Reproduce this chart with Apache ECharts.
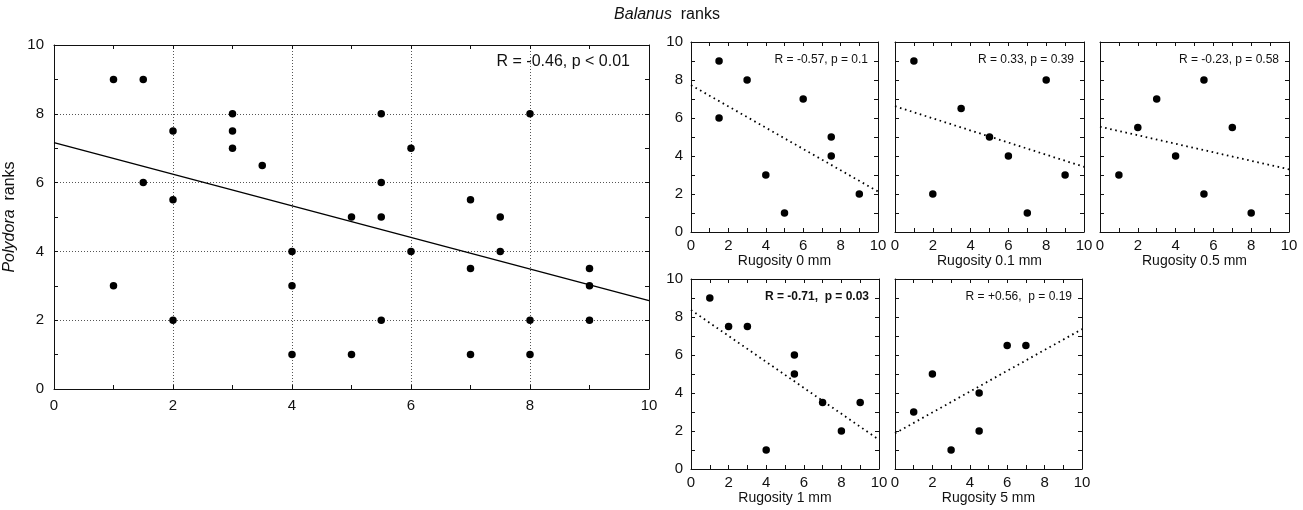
<!DOCTYPE html>
<html>
<head>
<meta charset="utf-8">
<script src="https://cdn.jsdelivr.net/npm/echarts@6/dist/echarts.min.js"></script>
<style>
html,body{margin:0;padding:0;background:#fff;}
#c{width:1303px;height:510px;}
</style>
</head>
<body>
<div id="c"></div>
<script>
// ---------- DATA ----------
const tickValues = [0, 2, 4, 6, 8, 10];
const fitX = [0, 10];

// Main plot: Balanus ranks (x) vs Polydora ranks (y)
const mainX = [1, 1.5, 3, 2, 3, 3, 3.5, 1.5, 2, 5.5, 8, 6, 5.5, 7, 7.5, 5, 5.5, 1, 2, 4, 4, 4, 6, 7.5, 7, 9, 9, 5.5, 8, 9, 5, 7, 8];
const mainY = [9, 9, 8, 7.5, 7.5, 7, 6.5, 6, 5.5, 8, 8, 7, 6, 5.5, 5, 5, 5, 3, 2, 4, 3, 1, 4, 4, 3.5, 3.5, 3, 2, 2, 2, 1, 1, 1];
const mainFit = [7.16, 2.57];
const mainLabel = 'R = -0.46, p < 0.01';

// Rugosity 0 mm
const r0X = [1.5, 3, 1.5, 6, 7.5, 7.5, 4, 5, 9];
const r0Y = [9, 8, 6, 7, 5, 4, 3, 1, 2];
const r0Fit = [7.73, 2.13];
// Rugosity 0.1 mm
const r01X = [1, 8, 3.5, 5, 6, 9, 2, 7];
const r01Y = [9, 8, 6.5, 5, 4, 3, 2, 1];
const r01Fit = [6.62, 3.43];
// Rugosity 0.5 mm
const r05X = [1, 2, 3, 5.5, 7, 4, 5.5, 8];
const r05Y = [3, 5.5, 7, 8, 5.5, 4, 2, 1];
const r05Fit = [5.54, 3.3];
// Rugosity 1 mm
const r1X = [1, 2, 3, 5.5, 5.5, 7, 9, 8, 4];
const r1Y = [9, 7.5, 7.5, 6, 5, 3.5, 3.5, 2, 1];
const r1Fit = [8.37, 1.54];
// Rugosity 5 mm
const r5X = [1, 2, 3, 4.5, 4.5, 6, 7];
const r5Y = [3, 5, 1, 4, 2, 6.5, 6.5];
const r5Fit = [1.88, 7.36];

const panelNames = ['Rugosity 0 mm', 'Rugosity 0.1 mm', 'Rugosity 0.5 mm', 'Rugosity 1 mm', 'Rugosity 5 mm'];
const panelLabels = ['R = -0.57, p = 0.1', 'R = 0.33, p = 0.39', 'R = -0.23, p = 0.58', 'R = -0.71,  p = 0.03', 'R = +0.56,  p = 0.19'];

// ---------- LAYOUT ----------
const FONT = '"Liberation Sans", Arial, sans-serif';
const INK = '#111';
const grids = [
  {left: 54, top: 45, width: 595, height: 344},
  {left: 691, top: 42, width: 187, height: 190},
  {left: 895, top: 42, width: 189, height: 190},
  {left: 1100, top: 42, width: 189, height: 190},
  {left: 691, top: 279, width: 188, height: 190},
  {left: 895, top: 279, width: 187, height: 190}
];
const panels = [
  {x: mainX, y: mainY, fit: mainFit, label: mainLabel, main: true, yLabels: true},
  {x: r0X, y: r0Y, fit: r0Fit, label: panelLabels[0], name: panelNames[0], yLabels: true},
  {x: r01X, y: r01Y, fit: r01Fit, label: panelLabels[1], name: panelNames[1], yLabels: false},
  {x: r05X, y: r05Y, fit: r05Fit, label: panelLabels[2], name: panelNames[2], yLabels: false},
  {x: r1X, y: r1Y, fit: r1Fit, label: panelLabels[3], name: panelNames[3], yLabels: true, bold: true},
  {x: r5X, y: r5Y, fit: r5Fit, label: panelLabels[4], name: panelNames[4], yLabels: false}
];

const xAxes = [], yAxes = [], series = [], graphics = [];

function baseAxis(gi, position, showLabel, main) {
  return {
    gridIndex: gi, type: 'value', position: position,
    min: tickValues[0], max: tickValues[tickValues.length - 1], interval: tickValues[1] - tickValues[0],
    axisLine: {show: true, onZero: false, lineStyle: {color: INK, width: 1}},
    axisTick: {show: true, inside: true, length: 4, lineStyle: {color: INK, width: 1}},
    minorTick: {show: true, splitNumber: 2, length: 4, lineStyle: {color: INK, width: 1}},
    splitLine: {show: false},
    minorSplitLine: {show: false},
    axisLabel: {show: showLabel, color: INK, fontFamily: FONT, fontSize: main ? 15 : 15,
      margin: main ? 9 : 6},
    silent: true
  };
}

panels.forEach((p, i) => {
  const main = !!p.main;
  const xb = baseAxis(i, 'bottom', true, main);
  if (main) {
    xb.splitLine = {show: true, lineStyle: {type: [1, 2], color: '#555', width: 1}};
  }
  if (p.name) {
    xb.name = p.name;
    xb.nameLocation = 'middle';
    xb.nameGap = 20;
    xb.nameTextStyle = {color: INK, fontFamily: FONT, fontSize: 14};
  }
  xAxes.push(xb);
  xAxes.push(baseAxis(i, 'top', false, main));
  const yl = baseAxis(i, 'left', p.yLabels, main);
  yl.axisLabel.margin = main ? 10 : 8;
  if (main) {
    yl.splitLine = {show: true, lineStyle: {type: [1, 2], color: '#555', width: 1}};
    yl.name = '{i|Polydora}  ranks';
    yl.nameLocation = 'middle';
    yl.nameGap = 36;
    yl.nameTextStyle = {color: INK, fontFamily: FONT, fontSize: 16,
      rich: {i: {fontStyle: 'italic', fontFamily: FONT, fontSize: 16, color: INK}}};
  }
  yAxes.push(yl);
  yAxes.push(baseAxis(i, 'right', false, main));

  const pts = p.x.map((v, k) => [v, p.y[k]]);
  series.push({
    type: 'scatter', xAxisIndex: 2 * i, yAxisIndex: 2 * i,
    data: pts, symbol: 'circle', symbolSize: 7.5,
    itemStyle: {color: '#000', opacity: 1}, silent: true, z: 3
  });
  series.push({
    type: 'line', xAxisIndex: 2 * i, yAxisIndex: 2 * i,
    data: fitX.map((v, k) => [v, p.fit[k]]),
    symbol: 'none', silent: true, z: 2,
    lineStyle: main ? {color: '#000', width: 1.4, type: 'solid'} : {color: '#000', width: 1.8, type: [1.6, 3.6]}
  });

  const g = grids[i];
  graphics.push({
    type: 'text',
    x: g.left + g.width - (main ? 19 : 10),
    y: g.top + (main ? 17 : 18),
    style: {
      text: p.label, align: 'right', verticalAlign: 'middle',
      fill: INK, fontFamily: FONT, fontSize: main ? 16 : 12,
      fontWeight: p.bold ? 'bold' : 'normal'
    },
    silent: true
  });
});

graphics.push({
  type: 'text', x: 667, y: 15,
  style: {
    text: '{i|Balanus}  ranks', align: 'center', verticalAlign: 'middle',
    fill: INK, fontFamily: FONT, fontSize: 16,
    rich: {i: {fontStyle: 'italic', fontFamily: FONT, fontSize: 16, fill: INK}}
  },
  silent: true
});

const chart = echarts.init(document.getElementById('c'), null, {renderer: 'canvas'});
chart.setOption({
  animation: false,
  backgroundColor: '#fff',
  grid: grids.map(g => Object.assign({containLabel: false}, g)),
  xAxis: xAxes,
  yAxis: yAxes,
  series: series,
  graphic: graphics
});
</script>
</body>
</html>
